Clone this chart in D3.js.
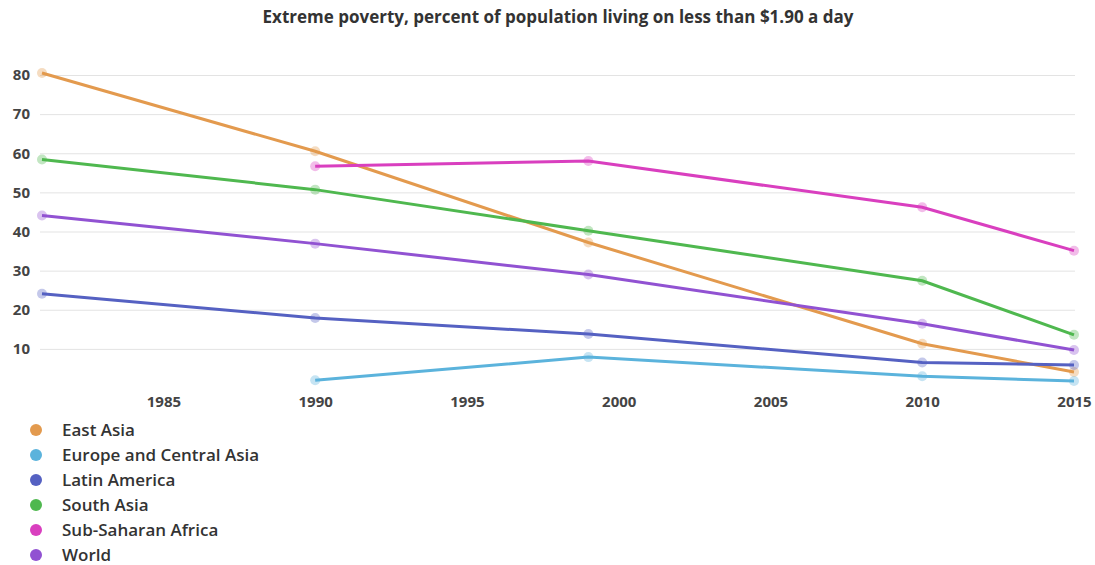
<!DOCTYPE html>
<html>
<head>
<meta charset="utf-8">
<script src="https://cdn.jsdelivr.net/npm/d3@7"></script>
<style>
  body { margin: 0; background: #fff; font-family: "Open Sans", sans-serif; }
  .grid line { stroke: #e3e3e3; }
  .grid path { display: none; }
  .tick text { fill: #444; font-family: "Open Sans", sans-serif; font-weight: 700; font-size: 15px; }
</style>
</head>
<body>
<svg id="chart" width="1095" height="565"></svg>
<script>
// data
var years = [1981, 1990, 1999, 2010, 2015];
var eastAsia = [80.5, 60.5, 37.2, 11.3, 4.1];
var europeCentralAsia = [null, 2.0, 7.9, 3.0, 1.8];
var latinAmerica = [24.1, 17.9, 13.8, 6.5, 5.9];
var southAsia = [58.4, 50.7, 40.2, 27.4, 13.6];
var subSaharanAfrica = [null, 56.7, 58.0, 46.2, 35.1];
var world = [44.1, 36.9, 29.0, 16.4, 9.7];
var xTicks = [1985, 1990, 1995, 2000, 2005, 2010, 2015];
var yTicks = [10, 20, 30, 40, 50, 60, 70, 80];

var series = [
  { name: 'East Asia', values: eastAsia, color: '#e39a4e' },
  { name: 'Europe and Central Asia', values: europeCentralAsia, color: '#5bb3dc' },
  { name: 'Latin America', values: latinAmerica, color: '#5561c2' },
  { name: 'South Asia', values: southAsia, color: '#4fb84f' },
  { name: 'Sub-Saharan Africa', values: subSaharanAfrica, color: '#d93fbf' },
  { name: 'World', values: world, color: '#9152d2' }
];

var svg = d3.select('#chart');

var x = d3.scaleLinear().domain([1981, 2015]).range([42, 1074]);
var y = d3.scaleLinear().domain([0, 80]).range([388, 75]);

svg.append('text')
  .attr('x', 558).attr('y', 23)
  .attr('text-anchor', 'middle')
  .style('font-size', '17px').style('font-weight', 700).style('fill', '#333')
  .text('Extreme poverty, percent of population living on less than $1.90 a day');

// horizontal grid + y labels
var yAxis = svg.append('g').attr('class', 'grid')
  .attr('transform', 'translate(40,0)')
  .call(d3.axisLeft(y).tickValues(yTicks).tickSize(-1035).tickPadding(8));
yAxis.selectAll('.tick text').attr('x', -10);

var xAxis = svg.append('g').attr('class', 'grid')
  .attr('transform', 'translate(0,390)')
  .call(d3.axisBottom(x).tickValues(xTicks).tickFormat(d3.format('d')).tickSize(0).tickPadding(6));

var line = d3.line()
  .defined(function(d) { return d.v != null; })
  .x(function(d) { return x(d.year); })
  .y(function(d) { return y(d.v); });

series.forEach(function(s) {
  var pts = years.map(function(yr, i) { return { year: yr, v: s.values[i] }; });
  svg.append('path')
    .datum(pts)
    .attr('fill', 'none')
    .attr('stroke', s.color)
    .attr('stroke-width', 3)
    .attr('d', line);
  svg.selectAll(null)
    .data(pts.filter(function(d) { return d.v != null; }))
    .enter().append('circle')
    .attr('cx', function(d) { return x(d.year); })
    .attr('cy', function(d) { return y(d.v); })
    .attr('r', 5)
    .attr('fill', s.color)
    .attr('fill-opacity', 0.35);
});

// legend
var legend = svg.append('g').attr('transform', 'translate(36,430)');
var item = legend.selectAll('g').data(series).enter().append('g')
  .attr('transform', function(d, i) { return 'translate(0,' + (i * 25) + ')'; });
item.append('circle').attr('r', 6).attr('fill', function(d) { return d.color; });
item.append('text')
  .attr('x', 26).attr('dy', '0.35em')
  .style('font-size', '17px').style('font-weight', 600).style('fill', '#333')
  .text(function(d) { return d.name; });
</script>
</body>
</html>
